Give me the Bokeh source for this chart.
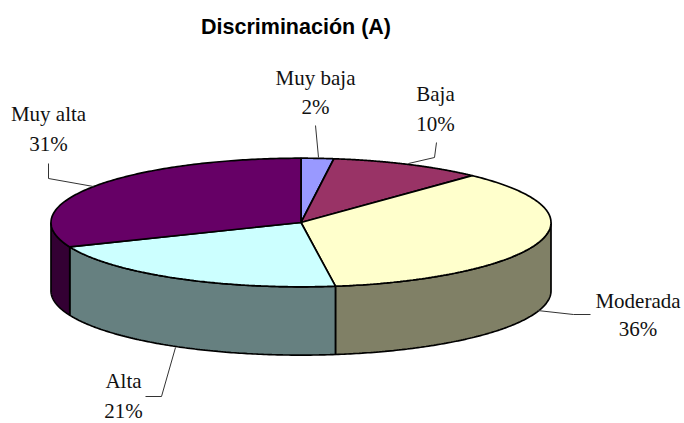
import numpy as np
from bokeh.plotting import figure
from bokeh.models import Range1d
from bokeh.core.properties import value
from bokeh.embed import file_html
from bokeh.resources import INLINE

title = "Discriminación (A)"
categories = ["Muy baja", "Baja", "Moderada", "Alta", "Muy alta"]
percents = [2.1, 9.9, 35.8, 21, 31.2]
percent_labels = ["2%", "10%", "36%", "21%", "31%"]
top_colors = ["#9999FF", "#993366", "#FFFFCC", "#CCFFFF", "#660066"]
side_colors = ["#4C4C80", "#4C1933", "#808066", "#668080", "#330033"]

# Layout (page pixels of the photographed window)
CX, CY, RX, RY, DEPTH = 300.5, 222, 250, 64.3, 68.3
label_x = [315, 435, 637.5, 123, 48]
label_y1 = [77.5, 93.5, 300.5, 380.5, 113.5]
label_y2 = [106.5, 123.5, 328.5, 410.5, 143.5]
leaders_x = [[315, 318], [436, 434, 408], [590, 573, 537], [145, 161, 175], [48, 48, 93]]
leaders_y = [[125, 157], [142, 157, 163], [314, 314, 310], [396, 396, 347], [163, 178, 186]]

p = figure(width=684, height=423, output_backend="svg", toolbar_location=None,
           x_range=Range1d(0, 684), y_range=Range1d(423, 0),
           min_border=0, min_border_left=0, min_border_right=0, min_border_top=0, min_border_bottom=0)
p.axis.visible = False
p.grid.visible = False
p.outline_line_color = None
p.background_fill_color = "white"
p.border_fill_color = "white"


def ell(t):
    return CX + RX * np.sin(t), CY - RY * np.cos(t)


edges = np.radians(np.concatenate([[0], np.cumsum(percents)]) * 3.6)

# side walls (only the front half of the disc, from 90 to 270 degrees)
lo, hi = np.pi / 2, 3 * np.pi / 2
for i in range(len(percents)):
    a, b = max(edges[i], lo), min(edges[i + 1], hi)
    if b <= a:
        continue
    t = np.linspace(a, b, 120)
    x, y = ell(t)
    p.patch(np.concatenate([x, x[::-1]]), np.concatenate([y, y[::-1] + DEPTH]),
            fill_color=side_colors[i], line_color="black", line_width=1.7)

# top faces
for i in range(len(percents)):
    t = np.linspace(edges[i], edges[i + 1], 160)
    x, y = ell(t)
    p.patch(np.concatenate([[CX], x]), np.concatenate([[CY], y]),
            fill_color=top_colors[i], line_color="black", line_width=1.7)

# leaders
p.multi_line(leaders_x, leaders_y, line_color="#333333", line_width=1)

# labels
for i, name in enumerate(categories):
    for yy, s in ((label_y1[i], name), (label_y2[i], percent_labels[i])):
        p.text([label_x[i]], [yy], text=[s], text_font=value("Liberation Serif"),
               text_font_size="21px", text_color="#111111",
               text_align="center", text_baseline="middle")

p.text([295.5], [26.5], text=[title], text_font=value("Liberation Sans"),
       text_font_size="21.5px", text_font_style="bold", text_color="black",
       text_align="center", text_baseline="middle")

open("out.html", "w").write(file_html(p, INLINE))
